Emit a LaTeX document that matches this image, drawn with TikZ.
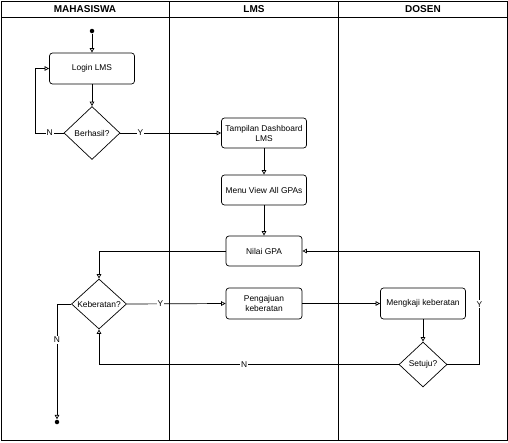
\documentclass[tikz,border=0pt]{standalone}
\usepackage{fontspec}
\setmainfont{Liberation Sans}
\usetikzlibrary{arrows.meta,shapes.geometric}

\tikzset{
    act/.style={draw, rounded corners=3pt, minimum width=85pt, minimum height=31pt, align=center, inner sep=1pt},
    choice/.style={draw, diamond, shape aspect=1.1, inner sep=0pt},
    lbl/.style={fill=white, inner sep=1pt},
    dot/.style={circle, fill=black, inner sep=0pt, minimum size=4.5pt},
    lane/.style={font=\bfseries}
}

\begin{document}
\begin{tikzpicture}[x=1pt, y=-1pt, line width=0.7pt, >={Triangle[open,length=4.5pt,width=4.5pt]},
    font=\fontsize{8.4}{10}\selectfont]
    \useasboundingbox (0,0) rectangle (508,442);
    % swimlanes
    \draw (1,1) rectangle (507,440);
    \draw (1,17) -- (507,17);
    \draw (169,1) -- (169,440);
    \draw (338,1) -- (338,440);
    \node[lane] (mhs) at (85,9) {MAHASISWA};
    \node[lane] (lms) at (254,9) {LMS};
    \node[lane] (dsn) at (423,9) {DOSEN};

    % nodes
    \node[dot] (start) at (92,31) {};
    \node[act] (login) at (92,68.5) {Login LMS};
    \node[choice, minimum width=56pt, minimum height=53pt] (berhasil) at (92,133) {Berhasil?};
    \node[act, minimum height=30pt] (tampilan) at (264,133) {Tampilan Dashboard\\LMS};
    \node[act, minimum height=30pt] (menu) [below of=tampilan, node distance=57pt] {Menu View All GPAs};
    \node[act, minimum width=76pt, minimum height=30pt] (nilai) [below of=menu, node distance=61pt] {Nilai GPA};
    \node[choice, minimum width=55pt, minimum height=50pt] (keberatan) at (99,304) {Keberatan?};
    \node[act, minimum width=76pt] (pengajuan) at (264,303.5) {Pengajuan\\keberatan};
    \node[act] (mengkaji) at (423,303.5) {Mengkaji keberatan};
    \node[choice, minimum width=48pt, minimum height=45pt] (setuju) at (423,364.5) {Setuju?};
    \node[dot] (end) at (57,422) {};

    % flows
    \draw[->] (start) -- (login);
    \draw[->] (login) -- (berhasil);
    \draw[->] (berhasil.west) -- node[lbl] {N} ++(-28,0) |- (login.west);
    \draw[->] (berhasil.east) -- node[lbl, pos=0.2] {Y} (tampilan.west);
    \draw[->] (tampilan) -- (menu);
    \draw[->] (menu) -- (nilai);
    \draw[->] (nilai.west) -| (keberatan.north);
    \draw[->] (keberatan.east) -- node[lbl, pos=0.34] {Y} (pengajuan.west);
    \draw[->] (pengajuan) -- (mengkaji);
    \draw[->] (mengkaji) -- (setuju);
    \draw[->] (setuju.east) -- ++(32,0) |- node[lbl, pos=0.265] {Y} (nilai.east);
    \draw[->] (setuju.west) -| node[lbl, pos=0.258] {N} (keberatan.south);
    \draw[->] (keberatan.west) -| node[lbl, pos=0.655] {N} (end.north);
\end{tikzpicture}
\end{document}
